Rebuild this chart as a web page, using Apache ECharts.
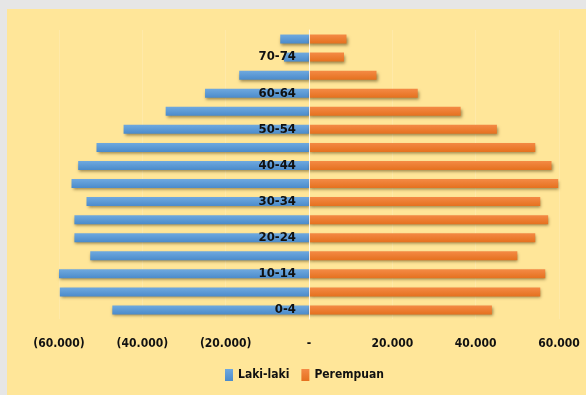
<!DOCTYPE html>
<html>
<head>
<meta charset="utf-8">
<script src="https://cdn.jsdelivr.net/npm/echarts@6/dist/echarts.min.js"></script>
<style>
  html, body { margin: 0; padding: 0; background: #e6e6e6; }
  #main { position: absolute; left: 7px; top: 9px; width: 579px; height: 386px; background: #FFE699; }
</style>
</head>
<body>
<div id="main"></div>
<script>
  // kelompok umur, dari bawah ke atas
  const ageGroups = ['0-4', '5-9', '10-14', '15-19', '20-24', '25-29', '30-34', '35-39',
    '40-44', '45-49', '50-54', '55-59', '60-64', '65-69', '70-74', '75+']
  const lakiLaki = [47200, 59800, 60000, 52500, 56300, 56300, 53400, 57000,
    55400, 51000, 44500, 34400, 24950, 16750, 6000, 6900]
  const perempuan = [43900, 55500, 56700, 50000, 54300, 57400, 55500, 59800,
    58200, 54300, 45100, 36400, 26100, 16200, 8400, 9000]

  const font = "'Liberation Sans Narrow', 'DejaVu Sans Condensed', sans-serif"

  function fmt(v) {
    if (v === 0) return '-'
    const s = Math.abs(v).toString().replace(/\B(?=(\d{3})+(?!\d))/g, '.')
    return v < 0 ? '(' + s + ')' : s
  }

  function grad(top, bottom) {
    return new echarts.graphic.LinearGradient(0, 0, 0, 1, [
      { offset: 0, color: top },
      { offset: 1, color: bottom }
    ])
  }

  const shadow = {
    shadowBlur: 3,
    shadowColor: 'rgba(60, 40, 0, 0.5)',
    shadowOffsetX: 1,
    shadowOffsetY: 2
  }

  const gridLeft = 52
  const gridRight = 27
  const plotWidth = 579 - gridLeft - gridRight

  const myChart = echarts.init(document.getElementById('main'))
  const option = {
    animation: false,
    textStyle: { fontFamily: font },
    grid: { left: gridLeft, right: gridRight, top: 21, bottom: 76 },
    legend: {
      bottom: 9,
      left: 213,
      itemWidth: 8,
      itemHeight: 12,
      itemGap: 12,
      icon: 'rect',
      textStyle: { fontFamily: font, fontSize: 12, fontWeight: 'bold', color: '#111' },
      data: ['Laki-laki', 'Perempuan']
    },
    xAxis: {
      type: 'value',
      min: -60000,
      max: 60000,
      interval: 20000,
      axisLine: { show: false },
      axisTick: { show: false },
      splitLine: { show: true, lineStyle: { color: 'rgba(255,255,255,0.15)' } },
      axisLabel: {
        formatter: fmt,
        margin: 19,
        fontFamily: font,
        fontSize: 12,
        fontWeight: 'bold',
        color: '#111'
      }
    },
    yAxis: {
      type: 'category',
      data: ageGroups,
      z: 5,
      offset: -plotWidth / 2,
      axisLine: { show: true, onZero: false, lineStyle: { color: 'rgba(255,255,255,0.8)', width: 1 } },
      axisTick: { show: false },
      axisLabel: {
        interval: 1,
        margin: 13,
        fontFamily: font,
        fontSize: 13,
        fontWeight: 'bold',
        color: '#111'
      }
    },
    series: [
      {
        name: 'Laki-laki',
        type: 'bar',
        stack: 'total',
        barWidth: 9,
        data: lakiLaki.map(v => -v),
        itemStyle: Object.assign({ color: grad('#6FA9DF', '#4B8BCB') }, shadow)
      },
      {
        name: 'Perempuan',
        type: 'bar',
        stack: 'total',
        barWidth: 9,
        data: perempuan,
        itemStyle: Object.assign({ color: grad('#F48A45', '#E5711F') }, shadow)
      }
    ]
  }
  myChart.setOption(option, true)
</script>
</body>
</html>
